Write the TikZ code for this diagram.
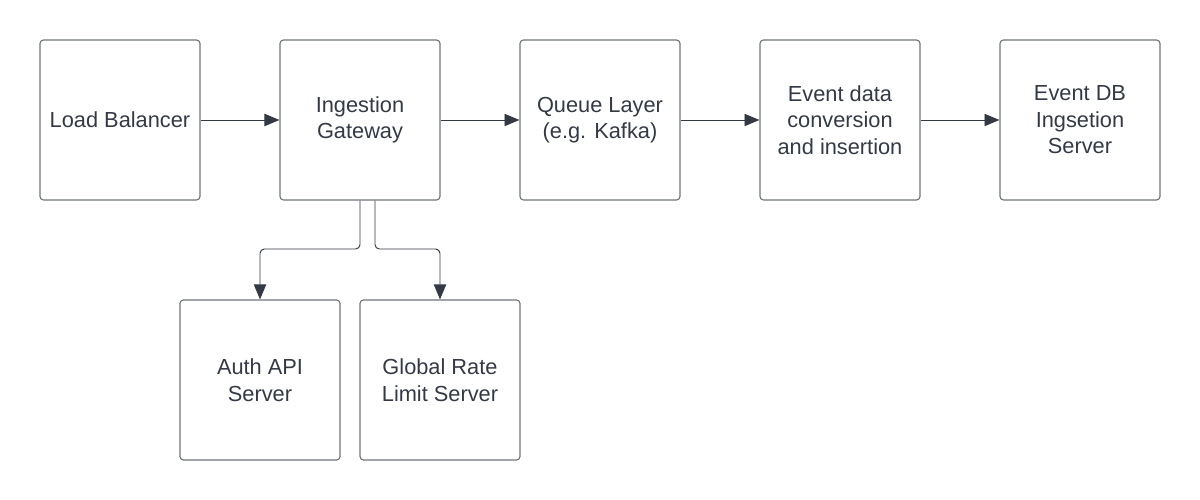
\documentclass[tikz,border=0pt]{standalone}
\usepackage{fontspec}
\setmainfont{Liberation Sans}
\usetikzlibrary{arrows.meta}
\definecolor{boxLine}{HTML}{6F737A}
\definecolor{inkDark}{HTML}{343A45}
\newcommand{\boxSide}{3.2cm}
\newcommand{\topRow}{7.6}
\newcommand{\bottomRow}{2.4}
\newcommand{\elbowY}{5.02}
\tikzset{
  stage/.style={draw=boxLine, line width=0.65pt, rounded corners=2pt,
    minimum width=\boxSide, minimum height=\boxSide, align=center,
    text=inkDark, font=\fontsize{12.4}{15.1}\selectfont},
  flow/.style={draw=inkDark, line width=0.55pt, rounded corners=2.5pt,
    -{Triangle[length=8.5pt,width=7pt]}}
}
\begin{document}
\begin{tikzpicture}
\useasboundingbox (0,0) rectangle (24,10);
% top row
\node[stage] (balancer) at (2.4,\topRow) {Load Balancer};
\node[stage] (gateway) at (7.2,\topRow) {Ingestion\\Gateway};
\node[stage] (queue) at (12,\topRow) {Queue Layer\\(e.g. Kafka)};
\node[stage] (convert) at (16.8,\topRow) {Event data\\conversion\\and insertion};
\node[stage] (eventdb) at (21.6,\topRow) {Event DB\\Ingsetion\\Server};
% bottom row
\node[stage] (auth) at (5.2,\bottomRow) {Auth API\\Server};
\node[stage] (ratelimit) at (8.8,\bottomRow) {Global Rate\\Limit Server};

\draw[flow] (balancer) -- (gateway);
\draw[flow] (gateway) -- (queue);
\draw[flow] (queue) -- (convert);
\draw[flow] (convert) -- (eventdb);

%\draw[flow] (gateway.south) -- (auth.north);
\draw[flow] (gateway.south) -- (7.2,\elbowY) -| (auth.north);
\draw[flow] ([xshift=0.3cm]gateway.south) -- (7.5,\elbowY) -| (ratelimit.north);
\end{tikzpicture}
\end{document}
